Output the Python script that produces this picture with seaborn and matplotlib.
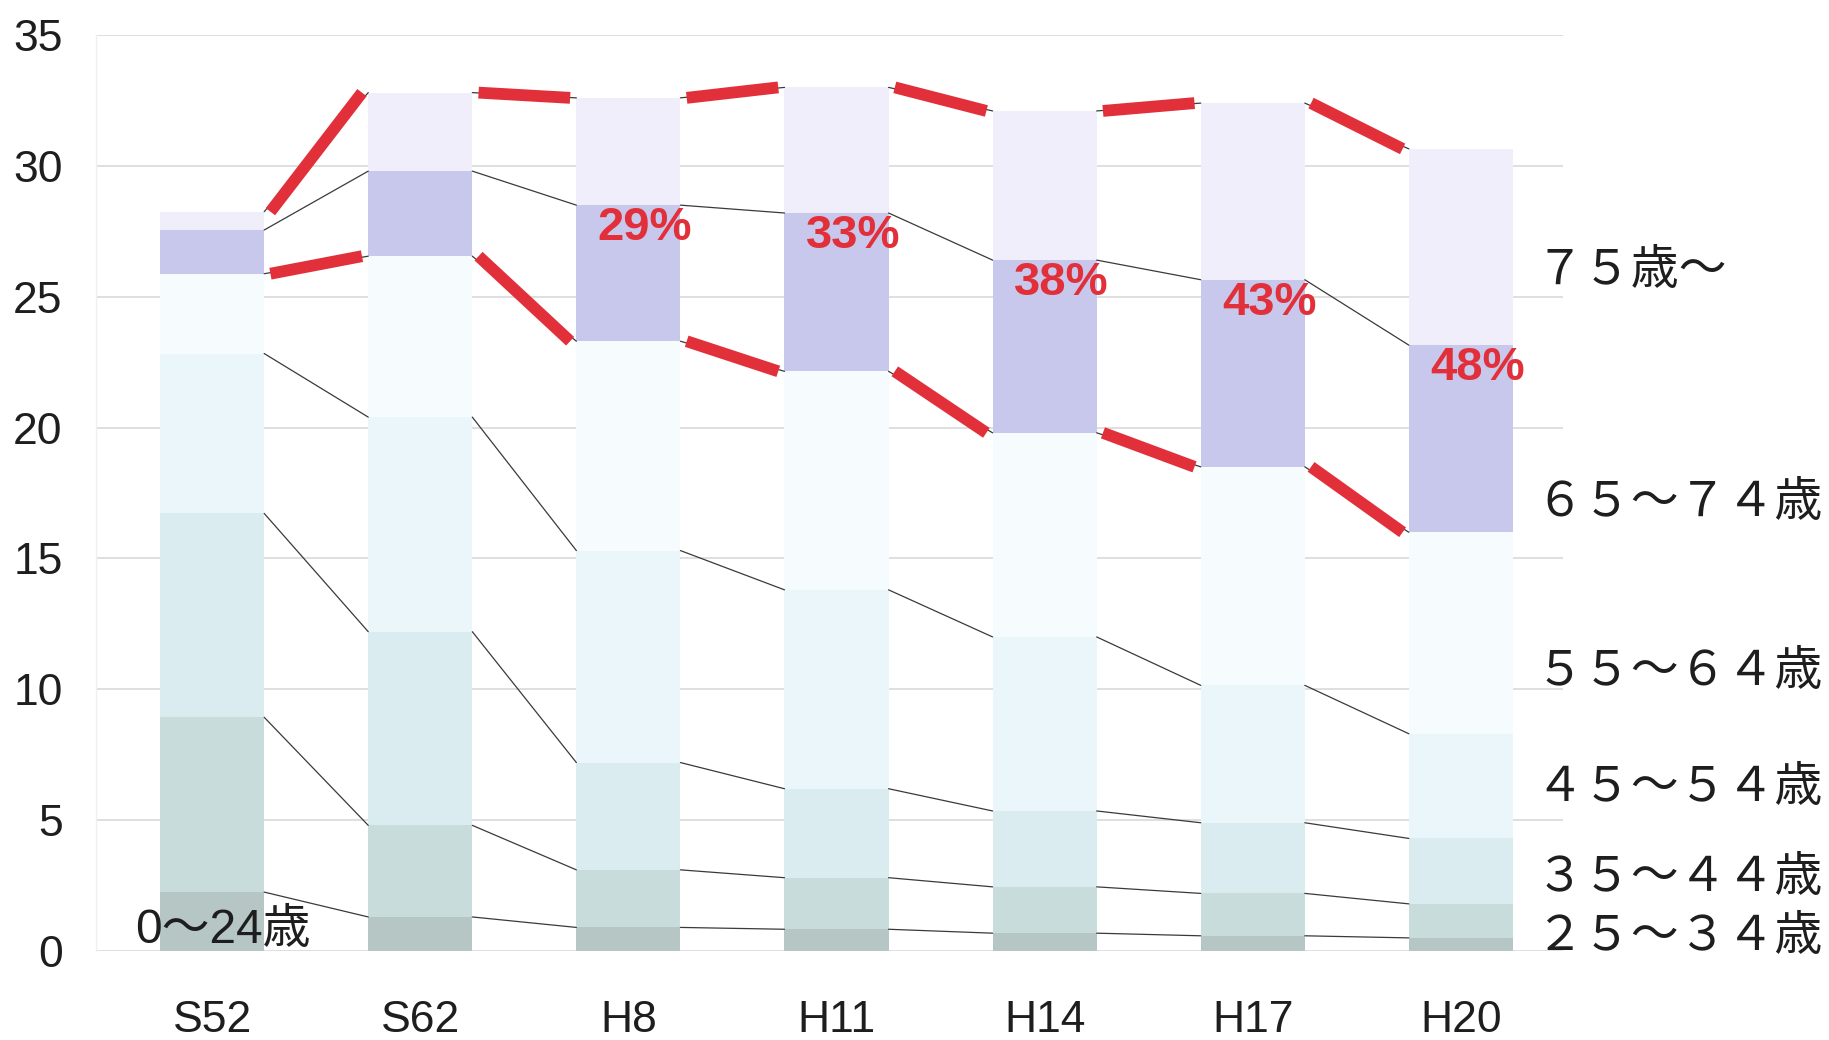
import numpy as np
import matplotlib
matplotlib.use("Agg")
import matplotlib.pyplot as plt
import seaborn as sns

# Survey years
years = ["S52", "S62", "H8", "H11", "H14", "H17", "H20"]

# Size of each age band per year (stacked bottom to top)
age_0_24 = [2.25, 1.30, 0.90, 0.83, 0.68, 0.58, 0.50]
age_25_34 = [6.68, 3.50, 2.20, 1.97, 1.77, 1.62, 1.30]
age_35_44 = [7.79, 7.40, 4.10, 3.40, 2.90, 2.70, 2.50]
age_45_54 = [6.11, 8.20, 8.10, 7.60, 6.65, 5.25, 4.00]
age_55_64 = [3.05, 6.15, 8.00, 8.35, 7.80, 8.35, 7.70]
age_65_74 = [1.67, 3.25, 5.20, 6.05, 6.60, 7.15, 7.15]
age_75_up = [0.70, 3.00, 4.10, 4.80, 5.70, 6.75, 7.50]

band_labels = ["0～24歳", "２５～３４歳", "３５～４４歳", "４５～５４歳",
               "５５～６４歳", "６５～７４歳", "７５歳～"]

yticks = [0, 5, 10, 15, 20, 25, 30, 35]

bands = [age_0_24, age_25_34, age_35_44, age_45_54, age_55_64, age_65_74, age_75_up]
band_colors = ["#b6c6c4", "#c9dcdc", "#dbecf1", "#eaf6fa", "#f6fbfd", "#c8c8ec", "#f0eefa"]
red = "#e2303b"

cum = np.cumsum(np.array(bands), axis=0)
total = cum[-1]
share_65_up = np.rint(100 * (total - cum[4]) / total).astype(int)

sns.set_theme(style="white")
plt.rcParams["font.family"] = ["Liberation Sans", "Noto Sans CJK JP"]

fig = plt.figure(figsize=(18.29, 10.40), dpi=100)
ax = fig.add_axes([0.0525, 0.0856, 0.8020, 0.8807])

bar_w = 0.5
# Draw the cumulative stacks from the top band down so lower bands sit in front
for k in range(len(bands) - 1, -1, -1):
    sns.barplot(x=years, y=cum[k], color=band_colors[k], saturation=1,
                width=bar_w, errorbar=None, edgecolor="none", linewidth=0,
                ax=ax, zorder=2)

half = bar_w / 2
n = len(years)
# Thin series lines joining each band boundary between neighbouring bars
for k in range(len(bands)):
    for i in range(n - 1):
        ax.plot([i + half, i + 1 - half], [cum[k][i], cum[k][i + 1]],
                color="#3a3a3a", lw=0.9, zorder=3)

# Thick red lines marking the 65+ block
for k in (4, 6):
    for i in range(n - 1):
        ax.plot([i + half + 0.03, i + 1 - half - 0.03], [cum[k][i], cum[k][i + 1]],
                color=red, lw=8.5, solid_capstyle="butt", zorder=4)

# Share of 65+ written inside each recent bar
for i in range(2, n):
    ax.text(i + 0.08, cum[5][i] - 0.05, f"{share_65_up[i]}%", ha="center", va="top",
            color=red, fontsize=34, fontweight="bold", zorder=5)

# Band names on the right
right_pos = [None, 0.55, 2.8, 6.25, 10.7, 17.15, 26.0]
for k in range(1, len(bands)):
    ax.text(6.36, right_pos[k], band_labels[k], ha="left", va="center",
            fontsize=34.5, color="#1e1e1e", clip_on=False,
            family=["Noto Sans CJK JP", "DejaVu Sans"])
ax.text(-0.37, 0.8, band_labels[0], ha="left", va="center", fontsize=34.5,
        color="#1e1e1e", zorder=6, family=["Liberation Sans", "Noto Sans CJK JP"])

ax.set_xlim(-0.558, 6.49)
ax.set_ylim(0, 35)
ax.set_yticks(yticks)
ax.set_yticklabels([str(v) for v in yticks])
ax.set_xlabel("")
ax.set_ylabel("")
ax.yaxis.grid(True, color="#d9d9d9", lw=1.2)
ax.xaxis.grid(False)
ax.set_axisbelow(True)
ax.tick_params(axis="y", length=0, pad=24, labelsize=32, labelcolor="#1e1e1e")
ax.tick_params(axis="x", length=0, pad=35, labelsize=32, labelcolor="#1e1e1e")
for side in ("top", "right", "bottom"):
    ax.spines[side].set_visible(False)
ax.spines["left"].set_color("#efefef")
ax.spines["left"].set_linewidth(1.0)

fig.savefig("out.png", dpi=100, facecolor="white")
